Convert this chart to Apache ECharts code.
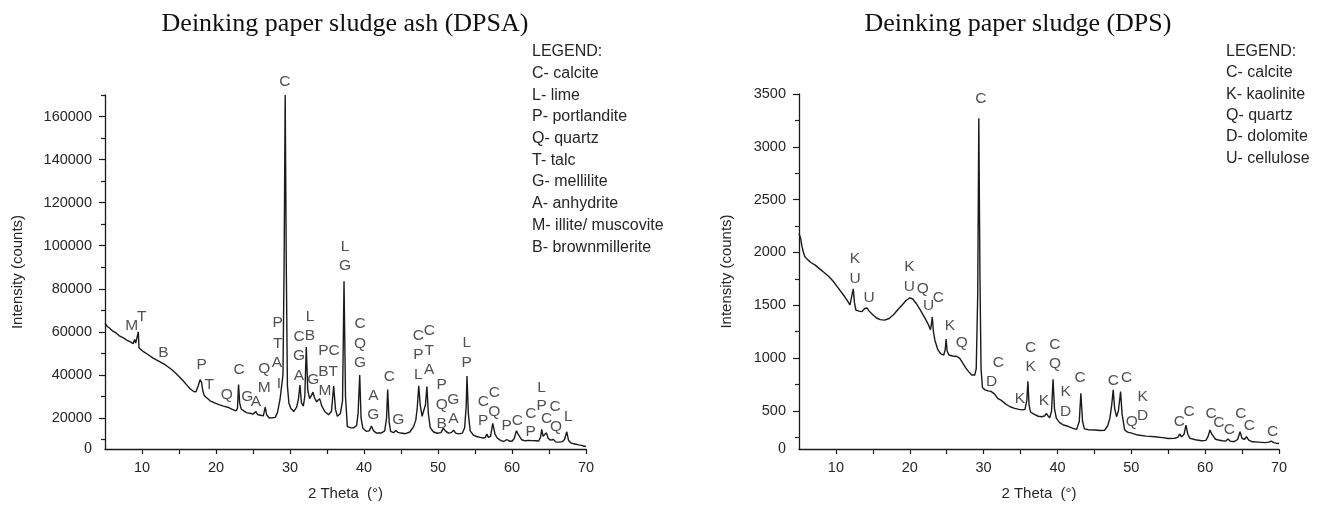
<!DOCTYPE html>
<html><head><meta charset="utf-8">
<script src="https://cdn.jsdelivr.net/npm/echarts@6/dist/echarts.min.js"></script>
<style>html,body{margin:0;padding:0;background:#fff}#c{width:1333px;height:507px}</style>
</head><body><div id="c"></div>
<script>
// ---------- data ----------
const chartTitles = ['Deinking paper sludge ash (DPSA)', 'Deinking paper sludge (DPS)'];
const xAxisName = '2 Theta  (\u00b0)';
const yAxisName = 'Intensity (counts)';
const xLabelValues = [10, 20, 30, 40, 50, 60, 70];
const xTickValues = [10, 15, 20, 25, 30, 35, 40, 45, 50, 55, 60, 65, 70];

const dpsaYLabels = [20000, 40000, 60000, 80000, 100000, 120000, 140000, 160000];
const dpsaYMinor = [10000, 30000, 50000, 70000, 90000, 110000, 130000, 150000, 170000];
const dpsYLabels = [500, 1000, 1500, 2000, 2500, 3000, 3500];
const dpsYMinor = [250, 750, 1250, 1750, 2250, 2750, 3250];

const dpsaLegend = ['LEGEND:', 'C- calcite', 'L- lime', 'P- portlandite', 'Q- quartz', 'T- talc',
  'G- mellilite', 'A- anhydrite', 'M- illite/ muscovite', 'B- brownmillerite'];
const dpsLegend = ['LEGEND:', 'C- calcite', 'K- kaolinite', 'Q- quartz', 'D- dolomite', 'U- cellulose'];

// [2theta, intensity]
const dpsaPattern = [
  [5.0, 64000], [5.3, 62500], [5.6, 61800], [6.0, 60500], [6.5, 59500], [7.0, 58000], [7.5, 57200],
  [8.0, 56000], [8.5, 55200], [8.8, 54500], [9.0, 56500], [9.15, 54800], [9.35, 55500], [9.5, 60000],
  [9.6, 52500], [9.8, 51800], [10.2, 50800], [10.8, 49500], [11.5, 47800], [12.2, 46500], [13.0, 45000],
  [13.5, 43800], [14.0, 42500], [14.5, 41000], [15.0, 39300], [15.5, 37500], [16.0, 35500], [16.5, 33600],
  [17.0, 32300], [17.3, 32200], [17.6, 35000], [17.85, 37800], [18.05, 36500], [18.2, 33000], [18.4, 30500],
  [18.7, 29500], [19.2, 28000], [19.8, 27000], [20.4, 26200], [21.0, 25500], [21.6, 25000], [22.2, 24000],
  [22.7, 23300], [22.9, 24500], [23.05, 35500], [23.2, 27000], [23.4, 24200], [23.8, 23200], [24.0, 23800],
  [24.2, 22400], [24.6, 22200], [25.0, 21800], [25.4, 23000], [25.6, 21600], [26.0, 21300], [26.4, 21000],
  [26.65, 25000], [26.85, 21500], [27.2, 20000], [27.6, 20100], [28.0, 20300], [28.3, 22500], [28.5, 26000],
  [28.65, 28600], [28.85, 29500], [29.05, 40000], [29.2, 90000], [29.35, 170000], [29.5, 90000], [29.65, 35000],
  [29.85, 27000], [30.1, 24500], [30.5, 23000], [30.9, 25000], [31.15, 29000], [31.35, 35300], [31.55, 27000],
  [31.8, 25500], [32.0, 30000], [32.2, 53000], [32.4, 33000], [32.65, 29000], [32.9, 30500], [33.1, 32000],
  [33.3, 29500], [33.6, 27500], [34.0, 29000], [34.3, 25500], [34.7, 23000], [35.2, 21500], [35.6, 23000],
  [35.9, 34800], [36.15, 24000], [36.4, 20800], [36.8, 22000], [37.1, 28000], [37.3, 83500], [37.5, 30000],
  [37.75, 16000], [38.2, 15500], [38.6, 15400], [39.0, 16500], [39.2, 22000], [39.42, 40000], [39.6, 20000],
  [39.85, 15200], [40.3, 13800], [40.7, 14000], [41.0, 16300], [41.3, 14000], [41.7, 13000], [42.3, 13000],
  [42.8, 14000], [43.05, 20000], [43.2, 33200], [43.4, 18000], [43.6, 13800], [44.0, 13200], [44.3, 14200],
  [44.6, 13300], [45.0, 13000], [45.6, 12700], [46.2, 13500], [46.7, 16000], [47.0, 19000], [47.2, 25000],
  [47.4, 34900], [47.6, 26000], [47.85, 20800], [48.1, 21500], [48.3, 26000], [48.5, 34600], [48.7, 22000],
  [48.95, 15500], [49.4, 13500], [49.9, 12900], [50.4, 13200], [50.7, 15200], [51.0, 14000], [51.4, 13000],
  [51.8, 13200], [52.1, 14300], [52.4, 13000], [52.8, 12600], [53.3, 13000], [53.6, 15500], [53.8, 25000],
  [53.92, 39500], [54.1, 22000], [54.35, 14000], [54.8, 12000], [55.2, 11400], [55.7, 11000], [56.1, 10700],
  [56.4, 11000], [56.6, 12600], [56.8, 11000], [57.1, 11500], [57.4, 17500], [57.7, 12500], [58.0, 10700],
  [58.5, 9500], [58.9, 9100], [59.3, 10000], [59.6, 9300], [60.0, 9200], [60.3, 10500], [60.6, 14100],
  [60.9, 12000], [61.3, 9900], [61.8, 9400], [62.3, 9600], [62.5, 10200], [62.7, 9500], [62.95, 10300],
  [63.2, 9400], [63.6, 9300], [63.85, 11000], [64.02, 14700], [64.2, 11500], [64.4, 12000], [64.65, 13100],
  [64.9, 10500], [65.2, 9700], [65.6, 10000], [65.9, 8900], [66.3, 8800], [66.8, 9000], [67.1, 10000],
  [67.4, 13600], [67.65, 9500], [68.0, 8300], [68.5, 7900], [69.0, 7500], [69.2, 8000], [69.4, 7300],
  [69.7, 7000], [70.0, 6700]
];

const dpsPattern = [
  [5.0, 2180], [5.2, 2140], [5.4, 2060], [5.6, 2000], [5.8, 1960], [6.2, 1930], [6.6, 1905], [7.2, 1880],
  [7.8, 1845], [8.4, 1810], [9.0, 1775], [9.6, 1730], [10.3, 1665], [11.0, 1600], [11.5, 1550], [11.9, 1505],
  [12.15, 1520], [12.35, 1655], [12.5, 1530], [12.7, 1455], [13.1, 1445], [13.5, 1440], [13.9, 1470],
  [14.2, 1475], [14.5, 1445], [15.0, 1410], [15.5, 1380], [16.0, 1365], [16.6, 1360], [17.2, 1375],
  [17.8, 1410], [18.4, 1460], [19.0, 1505], [19.5, 1545], [20.0, 1570], [20.4, 1560], [20.9, 1515],
  [21.4, 1460], [21.8, 1410], [22.2, 1360], [22.5, 1320], [22.8, 1270], [22.95, 1330], [23.05, 1390],
  [23.2, 1250], [23.4, 1170], [23.8, 1080], [24.2, 1040], [24.6, 1030], [24.8, 1080], [24.92, 1180],
  [25.05, 1070], [25.3, 1030], [25.8, 1020], [26.4, 1015], [26.8, 995], [27.2, 950], [27.6, 905],
  [28.0, 870], [28.4, 840], [28.8, 840], [29.0, 900], [29.2, 1600], [29.35, 3270], [29.5, 1800],
  [29.65, 900], [29.85, 720], [30.2, 700], [30.6, 690], [31.0, 685], [31.2, 670], [31.5, 660], [31.9, 620],
  [32.4, 600], [33.0, 565], [33.6, 540], [34.2, 525], [34.8, 515], [35.0, 525], [35.3, 510], [35.6, 515],
  [35.85, 600], [36.0, 780], [36.15, 560], [36.35, 490], [36.8, 470], [37.4, 450], [37.9, 445], [38.3, 455],
  [38.5, 478], [38.7, 455], [38.95, 435], [39.2, 500], [39.4, 800], [39.6, 520], [39.85, 430], [40.3, 390],
  [40.8, 367], [41.2, 360], [41.6, 350], [42.1, 335], [42.6, 326], [42.95, 400], [43.17, 668], [43.4, 400],
  [43.65, 330], [44.2, 322], [45.1, 320], [45.8, 315], [46.4, 318], [46.8, 360], [47.1, 430], [47.35, 560],
  [47.55, 700], [47.75, 520], [48.0, 446], [48.25, 500], [48.55, 683], [48.75, 470], [49.1, 320], [49.5, 300],
  [50.05, 290], [50.9, 272], [52.0, 262], [53.2, 256], [54.2, 248], [55.0, 240], [55.9, 242], [56.3, 250],
  [56.55, 282], [56.8, 255], [57.15, 280], [57.4, 367], [57.65, 280], [57.95, 240], [58.7, 228], [59.5, 218],
  [60.1, 222], [60.4, 260], [60.65, 320], [60.9, 280], [61.4, 232], [61.8, 225], [62.0, 238], [62.3, 218],
  [62.8, 215], [63.1, 235], [63.4, 214], [63.9, 209], [64.4, 230], [64.72, 304], [65.0, 240], [65.3, 230],
  [65.6, 256], [65.9, 225], [66.4, 208], [67.2, 205], [68.1, 200], [68.6, 205], [68.95, 215], [69.3, 200],
  [69.6, 195], [70.0, 192]
];

// peak letters: [2theta, intensity, letter]
const dpsaPeakLabels = [
  [29.32, 176400, 'C'], [8.61, 62780, 'M'], [9.96, 67100, 'T'], [12.88, 50090, 'B'], [18.07, 44650, 'P'],
  [19.09, 35350, 'T'], [21.45, 30700, 'Q'], [23.11, 42300, 'C'], [24.23, 29900, 'G'], [25.41, 27580, 'A'],
  [26.53, 43100, 'Q'], [26.53, 34090, 'M'], [28.34, 64040, 'P'], [28.34, 54270, 'T'], [28.24, 45440, 'A'],
  [28.51, 35810, 'I'], [31.22, 57530, 'C'], [31.22, 48830, 'G'], [31.22, 39670, 'A'], [32.70, 67100, 'L'],
  [32.70, 58270, 'B'], [33.15, 37670, 'G'], [35.27, 51150, 'PC'], [35.14, 41720, 'BT'], [34.73, 32560, 'M'],
  [37.43, 99500, 'L'], [37.43, 90680, 'G'], [39.46, 63710, 'C'], [39.46, 54410, 'Q'], [39.46, 45440, 'G'],
  [41.26, 30230, 'A'], [41.26, 21400, 'G'], [43.42, 39200, 'C'], [44.64, 19400, 'G'], [47.34, 58130, 'C'],
  [47.34, 49300, 'P'], [47.34, 40000, 'L'], [48.82, 60460, 'C'], [48.82, 51300, 'T'], [48.82, 42320, 'A'],
  [50.50, 35350, 'P'], [50.50, 26050, 'Q'], [50.50, 17540, 'B'], [52.07, 28370, 'G'], [52.07, 19860, 'A'],
  [53.88, 54740, 'L'], [53.88, 45710, 'P'], [56.12, 27580, 'C'], [56.12, 18740, 'P'], [57.61, 31760, 'C'],
  [57.61, 22930, 'Q'], [59.28, 16280, 'P'], [60.72, 18740, 'C'], [62.53, 22190, 'C'], [62.53, 13630, 'P'],
  [64.01, 34280, 'L'], [64.01, 25580, 'P'], [65.81, 25250, 'C'], [64.69, 19860, 'C'], [65.95, 15950, 'Q'],
  [67.61, 20600, 'L']
];

const dpsPeakLabels = [
  [29.64, 3451, 'C'], [12.58, 1940, 'K'], [12.58, 1750, 'U'], [14.48, 1570, 'U'], [19.94, 1869, 'K'],
  [19.94, 1674, 'U'], [21.75, 1655, 'Q'], [22.56, 1496, 'U'], [23.86, 1570, 'C'], [25.45, 1307, 'K'],
  [27.03, 1148, 'Q'], [31.99, 953, 'C'], [31.09, 778, 'D'], [34.93, 614, 'K'], [36.37, 1095, 'C'],
  [36.37, 915, 'K'], [38.18, 598, 'K'], [39.66, 1126, 'C'], [39.66, 946, 'Q'], [41.11, 683, 'K'],
  [41.11, 493, 'D'], [43.05, 810, 'C'], [47.56, 788, 'C'], [49.37, 810, 'C'], [51.54, 636, 'K'],
  [51.54, 455, 'D'], [50.05, 398, 'Q'], [56.50, 398, 'C'], [57.81, 493, 'C'], [60.79, 478, 'C'],
  [61.87, 389, 'C'], [63.27, 320, 'C'], [64.85, 472, 'C'], [65.98, 358, 'C'], [69.14, 304, 'C']
];

// ---------- chart ----------
const SANS = '"Liberation Sans", Arial, sans-serif';
const SERIF = '"Liberation Serif", "Times New Roman", serif';
const TXT = '#262626';
const LINE = '#1a1a1a';

const panels = [
  { grid: { left: 105, top: 95, width: 481, height: 354 }, yMin: 5600, yMax: 170000,
    yLabels: dpsaYLabels, yMinor: dpsaYMinor, pattern: dpsaPattern, peaks: dpsaPeakLabels, nameGap: 80 },
  { grid: { left: 799, top: 94, width: 480, height: 355 }, yMin: 140, yMax: 3500,
    yLabels: dpsYLabels, yMinor: dpsYMinor, pattern: dpsPattern, peaks: dpsPeakLabels, nameGap: 65 }
];

const grids = [], xAxes = [], yAxes = [], series = [];
panels.forEach((p, i) => {
  grids.push(Object.assign({ containLabel: false }, p.grid));
  xAxes.push({
    type: 'value', gridIndex: i, min: 5, max: 70,
    name: xAxisName, nameLocation: 'middle', nameGap: 37,
    nameTextStyle: { fontFamily: SANS, fontSize: 15, color: TXT },
    axisLine: { lineStyle: { color: LINE, width: 1.3 } },
    axisTick: { show: true, inside: false, length: 5, customValues: xTickValues, lineStyle: { color: LINE, width: 1.2 } },
    axisLabel: { customValues: xLabelValues, margin: 11, fontFamily: SANS, fontSize: 14.5, color: TXT },
    splitLine: { show: false }
  });
  const labelVals = [p.yMin].concat(p.yLabels);
  yAxes.push({
    type: 'value', gridIndex: i, min: p.yMin, max: p.yMax,
    name: yAxisName, nameLocation: 'middle', nameGap: p.nameGap, nameRotate: 90,
    nameTextStyle: { fontFamily: SANS, fontSize: 15, color: TXT },
    axisLine: { show: true, lineStyle: { color: LINE, width: 1.3 } },
    axisTick: { show: true, length: 6, customValues: p.yLabels, lineStyle: { color: LINE, width: 1.2 } },
    axisLabel: {
      customValues: labelVals, margin: 13, fontFamily: SANS, fontSize: 14.5, color: TXT,
      formatter: v => (v === p.yMin ? '{z|0}' : String(v)),
      rich: { z: { fontFamily: SERIF, fontSize: 16, color: TXT } }
    },
    splitLine: { show: false }
  });
  yAxes.push({
    type: 'value', gridIndex: i, min: p.yMin, max: p.yMax, position: 'left', offset: 0,
    axisLine: { show: false },
    axisTick: { show: true, length: 4, customValues: p.yMinor, lineStyle: { color: LINE, width: 1.2 } },
    axisLabel: { show: false }, splitLine: { show: false }
  });
  series.push({
    type: 'line', xAxisIndex: i, yAxisIndex: i * 2, data: p.pattern,
    showSymbol: false, symbol: 'none', silent: true,
    lineStyle: { color: LINE, width: 1.4 }, z: 2
  });
  series.push({
    type: 'scatter', xAxisIndex: i, yAxisIndex: i * 2, clip: false, silent: true,
    symbol: 'circle', symbolSize: 1, itemStyle: { color: 'rgba(0,0,0,0)' },
    data: p.peaks.map(d => ({ name: d[2], value: [d[0], d[1]] })),
    label: { show: true, position: 'inside', formatter: '{b}', fontFamily: SANS, fontSize: 15.5, color: TXT },
    z: 3
  });
});

const graphics = [
  { type: 'text', x: 345, y: 24, style: { text: chartTitles[0], fontFamily: SERIF, fontSize: 26, fill: '#111', align: 'center', verticalAlign: 'middle' } },
  { type: 'text', x: 1018, y: 24, style: { text: chartTitles[1], fontFamily: SERIF, fontSize: 26, fill: '#111', align: 'center', verticalAlign: 'middle' } },
  { type: 'text', x: 532, y: 41, style: { text: dpsaLegend.join('\n'), fontFamily: SANS, fontSize: 16, lineHeight: 21.7, fill: TXT, align: 'left', verticalAlign: 'top' } },
  { type: 'text', x: 1226, y: 41, style: { text: dpsLegend.join('\n'), fontFamily: SANS, fontSize: 16, lineHeight: 21.3, fill: TXT, align: 'left', verticalAlign: 'top' } }
];

const chart = echarts.init(document.getElementById('c'), null, { renderer: 'canvas' });
chart.setOption({
  backgroundColor: '#fff',
  animation: false,
  grid: grids, xAxis: xAxes, yAxis: yAxes, series: series,
  graphic: graphics
});
</script></body></html>
